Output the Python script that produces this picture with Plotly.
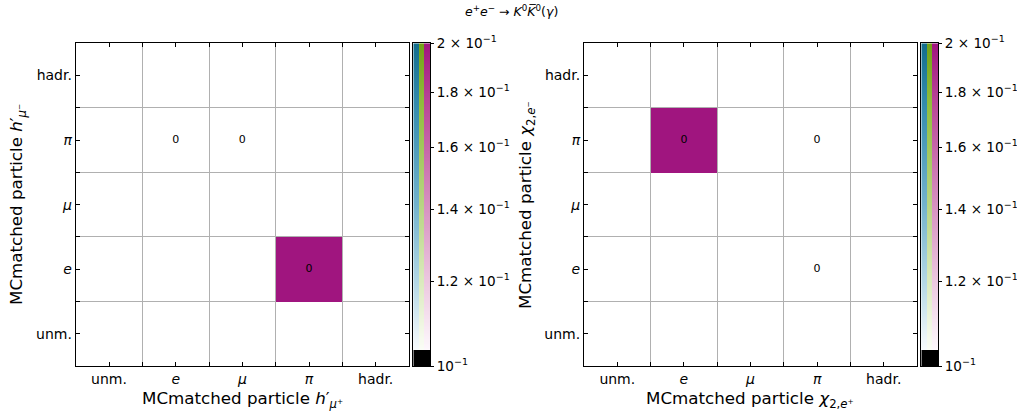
import numpy as np
import plotly.graph_objects as go

W, H = 1017, 415

# Particle categories (shared by both matrices)
categories = ["unm.", "<i>e</i>", "<i>μ</i>", "<i>π</i>", "hadr."]

# Filled cells: (x index, y index, fraction)
left_x = [3, 1, 2]
left_y = [1, 3, 3]
left_val = [0.40, 0.0, 0.0]

right_x = [1, 3, 3]
right_y = [3, 3, 1]
right_val = [0.40, 0.0, 0.0]

# Colour-scale limits (log) and tick values
cmin, cmax = 0.1, 0.2
cb_ticks = [0.1, 0.12, 0.14, 0.16, 0.18, 0.2]
cb_ticktext = ["10<sup>−1</sup>", "1.2 × 10<sup>−1</sup>", "1.4 × 10<sup>−1</sup>",
               "1.6 × 10<sup>−1</sup>", "1.8 × 10<sup>−1</sup>", "2 × 10<sup>−1</sup>"]

UNDER = 0.05  # fraction of the bar drawn in the "under" colour


def hex_rgb(h):
    h = h.lstrip("#")
    return [int(h[i:i + 2], 16) for i in (0, 2, 4)]


# (position, colour) stops above the under-range, white → full colour
stops = {
    "teal": [(UNDER, "#f8fbfd"), (0.25, "#b6d9e6"), (0.5, "#72b2cc"),
             (0.8, "#368daf"), (1.0, "#126d8d")],
    "green": [(UNDER, "#fbfdf7"), (0.25, "#dcebc0"), (0.5, "#b7d482"),
              (0.8, "#92be40"), (1.0, "#72a116")],
    "magenta": [(UNDER, "#fdf8fc"), (0.25, "#edcae1"), (0.5, "#d690c0"),
                (0.8, "#ba4a99"), (1.0, "#a0157f")],
}


def plotly_scale(name):
    s = [[0.0, "#000000"], [UNDER, "#000000"]]
    s += [[min(p + (1e-6 if i == 0 else 0), 1.0), c] for i, (p, c) in enumerate(stops[name])]
    return s


def colour_at(name, f):
    if f < UNDER:
        return [0, 0, 0]
    st = stops[name]
    for (p0, c0), (p1, c1) in zip(st[:-1], st[1:]):
        if f <= p1:
            t = (f - p0) / (p1 - p0)
            a, b = hex_rgb(c0), hex_rgb(c1)
            return [round(a[k] + t * (b[k] - a[k])) for k in range(3)]
    return hex_rgb(st[-1][1])


lo, hi = float(np.log10(cmin)), float(np.log10(cmax))


def px_x(a, b):
    return [a / W, b / W]


def px_y(top, bottom):
    return [1 - bottom / H, 1 - top / H]


fig = go.Figure()


def matrix(xs, ys, vals):
    z = [[None] * 5 for _ in range(5)]
    for x, y, v in zip(xs, ys, vals):
        z[y][x] = float(np.log10(v)) if v > 0 else None
    return z


def add_panel(xs, ys, vals, xa, ya):
    fig.add_trace(go.Heatmap(
        x=list(range(5)), y=list(range(5)), z=matrix(xs, ys, vals),
        colorscale=plotly_scale("magenta"), zmin=lo, zmax=hi, showscale=False,
        xaxis=xa, yaxis=ya, hoverinfo="skip"))
    fig.add_trace(go.Scatter(
        x=xs, y=ys, mode="text", text=[f"{v:.0f}" for v in vals],
        textfont=dict(size=11, color="black", family="DejaVu Sans"),
        xaxis=xa, yaxis=ya, showlegend=False, hoverinfo="skip"))


def add_colorbar(xa, ya):
    n = 320
    fr = (np.arange(n) + 0.5) / n
    img = [[colour_at(name, f) for name in ("teal", "green", "magenta")] for f in fr]
    dy = (hi - lo) / n
    fig.add_trace(go.Image(z=img, x0=0.5, dx=1, y0=lo + dy / 2, dy=dy,
                           xaxis=xa, yaxis=ya, hoverinfo="skip"))


add_panel(left_x, left_y, left_val, "x", "y")
add_panel(right_x, right_y, right_val, "x2", "y2")
add_colorbar("x3", "y3")
add_colorbar("x4", "y4")

font = dict(family="DejaVu Sans", color="black")
grid = dict(showgrid=True, gridcolor="#b0b0b0", gridwidth=1,
            tickvals=[0.5, 1.5, 2.5, 3.5], ticks="inside", ticklen=4,
            tickcolor="black")

main_axis = dict(range=[-0.5, 4.5], tickvals=list(range(5)), ticktext=categories,
                 showgrid=False, zeroline=False, showline=True, mirror="ticks",
                 linecolor="black", linewidth=1, ticks="inside", ticklen=4,
                 tickcolor="black", tickfont=dict(size=14, **font), minor=grid,
                 fixedrange=True, automargin=False)

cb_x = dict(range=[0, 3], showticklabels=False, ticks="", showgrid=False,
            zeroline=False, showline=True, mirror=True, linecolor="black",
            linewidth=1, automargin=False, autorange=False, scaleanchor=False)
cb_y = dict(range=[lo, hi], side="right", tickvals=[float(v) for v in np.log10(cb_ticks)],
            ticktext=cb_ticktext, ticks="outside", ticklen=3, tickcolor="black",
            showgrid=False, zeroline=False, showline=True, mirror=True,
            linecolor="black", linewidth=1, tickfont=dict(size=13.6, **font),
            automargin=False, autorange=False, scaleanchor=False)

fig.update_layout(
    width=W, height=H, margin=dict(l=0, r=0, t=0, b=0, autoexpand=False),
    paper_bgcolor="white", plot_bgcolor="white", showlegend=False,
    xaxis=dict(domain=px_x(75.7, 409), anchor="y", **main_axis),
    yaxis=dict(domain=px_y(43.3, 366), anchor="x", **main_axis),
    xaxis2=dict(domain=px_x(584, 917), anchor="y2", **main_axis),
    yaxis2=dict(domain=px_y(43.3, 366), anchor="x2", **main_axis),
    xaxis3=dict(domain=px_x(413.3, 430), anchor="y3", **cb_x),
    yaxis3=dict(domain=px_y(43.3, 366), anchor="x3", **cb_y),
    xaxis4=dict(domain=px_x(921.3, 938), anchor="y4", **cb_x),
    yaxis4=dict(domain=px_y(43.3, 366), anchor="x4", **cb_y),
)

ann = [
    dict(text="<i>e</i><sup>+</sup><i>e</i><sup>−</sup> → <i>K</i><sup>0</sup><i>K̅</i><sup>0</sup>(<i>γ</i>)",
         x=511 / W, y=1 - 11 / H, size=12.5),
    dict(text="MCmatched particle <i>h</i>′<sub><i>μ</i>⁺</sub>",
         x=242 / W, y=1 - 399 / H, size=16.7),
    dict(text="MCmatched particle <i>χ</i><sub>2,<i>e</i>⁺</sub>",
         x=750 / W, y=1 - 399 / H, size=16.7),
    dict(text="MCmatched particle <i>h</i>′<sub><i>μ</i>⁻</sub>",
         x=18 / W, y=1 - 205 / H, size=16.7, angle=-90),
    dict(text="MCmatched particle <i>χ</i><sub>2,<i>e</i>⁻</sub>",
         x=527 / W, y=1 - 205 / H, size=16.7, angle=-90),
]
for a in ann:
    fig.add_annotation(text=a["text"], x=a["x"], y=a["y"], xref="paper",
                       yref="paper", showarrow=False, xanchor="center",
                       yanchor="middle", textangle=a.get("angle", 0),
                       font=dict(size=a["size"], **font))

fig.write_html("out.html")
